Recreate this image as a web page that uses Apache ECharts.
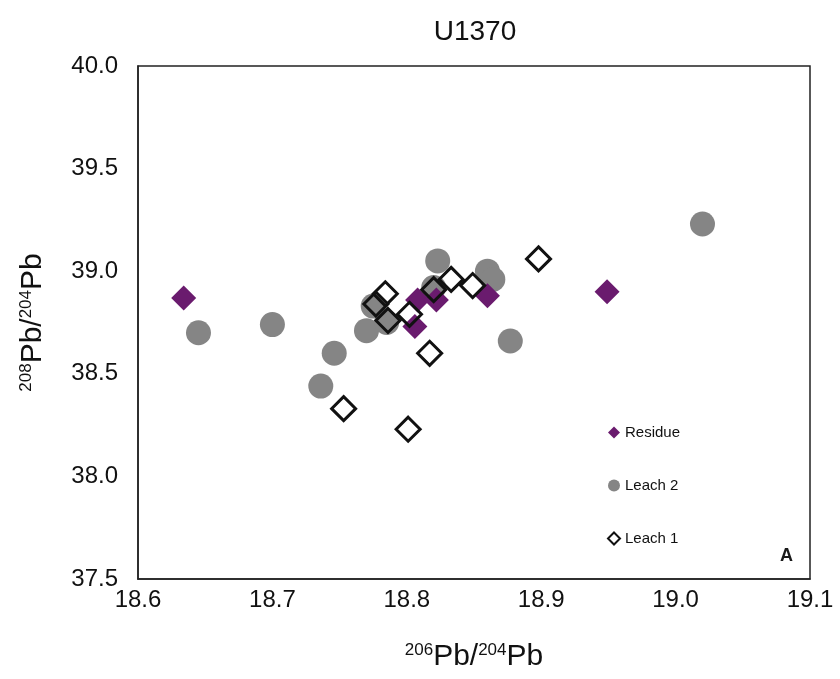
<!DOCTYPE html>
<html>
<head>
<meta charset="utf-8">
<script src="https://cdn.jsdelivr.net/npm/echarts@6/dist/echarts.min.js"></script>
<style>
  html, body { margin: 0; padding: 0; background: #fff; }
  #chart { width: 840px; height: 679px; }
</style>
</head>
<body>
<div id="chart"></div>
<script>
// 206Pb/204Pb vs 208Pb/204Pb, site U1370
const xTicks = [18.6, 18.7, 18.8, 18.9, 19.0, 19.1];
const yTicks = [37.5, 38.0, 38.5, 39.0, 39.5, 40.0];

const leach2 = [
  [18.645, 38.70], [18.700, 38.74], [18.746, 38.60], [18.736, 38.44],
  [18.770, 38.71], [18.775, 38.83], [18.785, 38.75], [18.820, 38.92],
  [18.823, 39.05], [18.860, 39.00], [18.864, 38.96], [18.877, 38.66],
  [19.020, 39.23]
];
const residue = [
  [18.634, 38.87], [18.806, 38.73], [18.808, 38.86], [18.822, 38.86],
  [18.860, 38.88], [18.949, 38.90]
];
const leach1 = [
  [18.753, 38.33], [18.801, 38.23], [18.817, 38.60], [18.777, 38.84],
  [18.784, 38.89], [18.786, 38.76], [18.802, 38.79], [18.820, 38.91],
  [18.833, 38.96], [18.849, 38.93], [18.898, 39.06]
];

const FONT = '"Liberation Sans Narrow", "Liberation Sans", Arial, sans-serif';
const chart = echarts.init(document.getElementById('chart'));

chart.setOption({
  animation: false,
  backgroundColor: '#ffffff',
  title: {
    text: 'U1370',
    left: 470, top: 13, textAlign: 'center',
    textStyle: { fontFamily: FONT, fontSize: 28, fontWeight: 'normal', color: '#111' }
  },
  grid: {
    left: 138, right: 30, top: 66, bottom: 100,
    show: true, borderColor: '#222', borderWidth: 1.5, backgroundColor: '#fff'
  },
  legend: {
    orient: 'vertical',
    left: 602, top: 420,
    itemGap: 38,
    itemWidth: 12, itemHeight: 12,
    textStyle: { fontFamily: FONT, fontSize: 15, color: '#111' },
    data: [
      { name: 'Residue', icon: 'diamond' },
      { name: 'Leach 2', icon: 'circle' },
      { name: 'Leach 1', icon: 'diamond' }
    ]
  },
  xAxis: {
    type: 'value', min: 18.6, max: 19.1, interval: 0.1,
    axisLine: { show: true, lineStyle: { color: '#222', width: 1.5 } },
    axisTick: { show: false },
    splitLine: { show: false },
    axisLabel: {
      fontFamily: FONT, fontSize: 24, color: '#111', margin: 9,
      formatter: v => v.toFixed(1)
    },
    name: '{sup|206}{b|Pb/}{sup|204}{b|Pb}',
    nameLocation: 'middle', nameGap: 63,
    nameTextStyle: {
      rich: {
        b: { fontFamily: FONT, fontSize: 30, color: '#111', verticalAlign: 'bottom' },
        sup: { fontFamily: FONT, fontSize: 17, color: '#111', verticalAlign: 'top', padding: [0, 0, 12, 0] }
      }
    }
  },
  yAxis: {
    type: 'value', min: 37.5, max: 40.0, interval: 0.5,
    axisLine: { show: true, lineStyle: { color: '#222', width: 1.5 } },
    axisTick: { show: false },
    splitLine: { show: false },
    axisLabel: {
      fontFamily: FONT, fontSize: 24, color: '#111', margin: 20,
      formatter: v => v.toFixed(1)
    },
    name: '{sup|208}{b|Pb/}{sup|204}{b|Pb}',
    nameLocation: 'middle', nameGap: 90, nameRotate: 90,
    nameTextStyle: {
      rich: {
        b: { fontFamily: FONT, fontSize: 30, color: '#111', verticalAlign: 'bottom' },
        sup: { fontFamily: FONT, fontSize: 17, color: '#111', verticalAlign: 'top', padding: [0, 0, 12, 0] }
      }
    }
  },
  graphic: [{
    type: 'text', left: 780, top: 547,
    style: { text: 'A', fontFamily: '"Liberation Sans", Arial, sans-serif', fontSize: 18, fontWeight: 'bold', fill: '#1a1a1a' }
  }],
  series: [
    {
      name: 'Leach 2', type: 'scatter', data: leach2,
      symbol: 'circle', symbolSize: 25, z: 2,
      itemStyle: { color: '#858585', opacity: 1 }
    },
    {
      name: 'Residue', type: 'scatter', data: residue,
      symbol: 'diamond', symbolSize: 25, z: 3,
      itemStyle: { color: '#6a1b6e', opacity: 1 }
    },
    {
      name: 'Leach 1', type: 'scatter', data: leach1,
      symbol: 'diamond', symbolSize: 24, z: 4,
      itemStyle: { color: 'rgba(255,255,255,0)', borderColor: '#111', borderWidth: 3, opacity: 1 }
    }
  ]
});
</script>
</body>
</html>
